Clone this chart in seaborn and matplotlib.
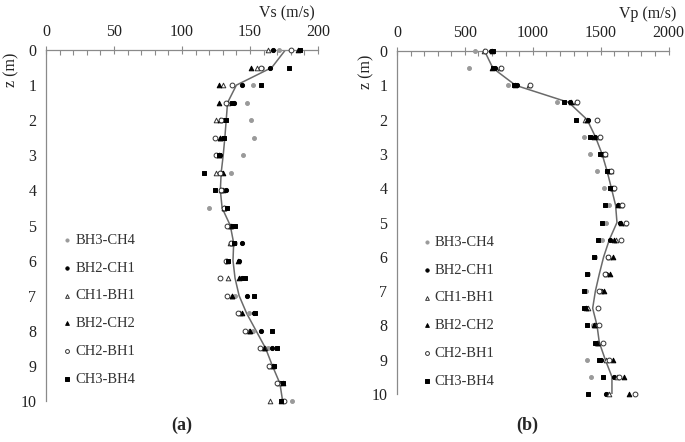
import numpy as np
import pandas as pd
import matplotlib
matplotlib.use("Agg")
import matplotlib.pyplot as plt
import seaborn as sns
from matplotlib.ticker import MultipleLocator

sns.set_style("white")
plt.rcParams['font.family'] = ['Liberation Serif', 'DejaVu Serif']

depth = [0, 0.5, 1, 1.5, 2, 2.5, 3, 3.5, 4, 4.5, 5, 5.5, 6, 6.5, 7, 7.5, 8, 8.5, 9, 9.5, 10]
series_names = ["BH3-CH4", "BH2-CH1", "CH1-BH1", "BH2-CH2", "CH2-BH1", "CH3-BH4"]

# Vs (m/s)
vs_bh3_ch4 = [171, 159, 152, 148, 151, 153, 145, 136, 131, 120, 137, 139, 134, 143, 139, 149, 152, 163, 167, 172, 181]
vs_bh2_ch1 = [167, 165, 144, 138, 131, 130, 128, 129, 132, 132, 137, 144, 142, 144, 148, 153, 158, 166, 168, 172, 174]
vs_ch1_bh1 = [163, 155, 130, 134, 125, 128, 127, 125, 129, 131, 135, 135, 133, 134, 137, 143, 149, 161, 165, 171, 165]
vs_bh2_ch2 = [185, 151, 127, 127, 128, 128, 127, 130, 130, 131, 136, 137, 141, 142, 137, 144, 150, 160, 167, 174, 173]
vs_ch2_bh1 = [180, 158, 137, 132, 129, 124, 125, 128, 129, 131, 133, 136, 132, 128, 133, 141, 146, 157, 164, 170, 175]
vs_ch3_bh4 = [187, 179, 158, 137, 132, 131, 127, 116, 124, 133, 139, 138, 134, 146, 153, 154, 166, 170, 168, 174, 173]
vs_fit = [176, 166, 140, 133.5, 132.5, 131.5, 130.3, 128.8, 128.2, 129.5, 135.5, 138, 137.5, 139, 142, 147.5, 154.5, 161.5, 166.5, 172, 174]

# Vp (m/s)
vp_bh3_ch4 = [573, 529, 818, 1179, 1390, 1377, 1419, 1475, 1527, 1559, 1541, 1510, 1455, 1405, 1390, 1395, 1440, 1465, 1400, 1431, 1555]
vp_bh2_ch1 = [690, 725, 880, 1277, 1407, 1461, 1505, 1550, 1575, 1625, 1640, 1571, 1554, 1540, 1500, 1390, 1455, 1470, 1500, 1600, 1537]
vp_ch1_bh1 = [640, 760, 975, 1320, 1382, 1490, 1530, 1575, 1590, 1650, 1680, 1613, 1560, 1540, 1500, 1404, 1460, 1480, 1540, 1620, 1560]
vp_bh2_ch2 = [700, 700, 870, 1280, 1400, 1450, 1515, 1560, 1580, 1630, 1652, 1595, 1591, 1566, 1527, 1395, 1449, 1475, 1591, 1674, 1706]
vp_ch2_bh1 = [645, 765, 980, 1326, 1473, 1498, 1534, 1579, 1596, 1657, 1689, 1652, 1554, 1534, 1485, 1478, 1485, 1517, 1559, 1632, 1750]
vp_ch3_bh4 = [710, 705, 865, 1228, 1319, 1419, 1498, 1547, 1571, 1529, 1510, 1478, 1449, 1400, 1380, 1380, 1400, 1461, 1490, 1517, 1407]
vp_fit = [645, 706, 873, 1265, 1400, 1461, 1510, 1547, 1579, 1610, 1620, 1564, 1522, 1490, 1461, 1441, 1473, 1490, 1534, 1583, 1583]

vs_all = [vs_bh3_ch4, vs_bh2_ch1, vs_ch1_bh1, vs_bh2_ch2, vs_ch2_bh1, vs_ch3_bh4]
vp_all = [vp_bh3_ch4, vp_bh2_ch1, vp_ch1_bh1, vp_bh2_ch2, vp_ch2_bh1, vp_ch3_bh4]

GREY = "#9a9a9a"
styles = [
    dict(marker="o", facecolor=GREY, edgecolor=GREY, s=8),
    dict(marker="o", facecolor="black", edgecolor="black", s=9),
    dict(marker="^", facecolor="white", edgecolor="#333333", s=11),
    dict(marker="^", facecolor="black", edgecolor="black", s=11),
    dict(marker="o", facecolor="white", edgecolor="#333333", s=12),
    dict(marker="s", facecolor="black", edgecolor="black", s=11),
]

fig = plt.figure(figsize=(6.85, 4.42), dpi=100)
axL = fig.add_axes([0.0672, 0.0928, 0.397, 0.794])
axR = fig.add_axes([0.5796, 0.1086, 0.3964, 0.7760])


def draw(ax, vals, fit, xmax, xmaj, xmin_step, legend_anchor):
    for name, v, st in zip(series_names, vals, styles):
        df = pd.DataFrame({"v": v, "z": depth})
        sns.scatterplot(data=df, x="v", y="z", ax=ax, marker=st["marker"],
                        color=st["facecolor"], edgecolor=st["edgecolor"],
                        s=st["s"], linewidth=0.7, label=name, clip_on=False, zorder=3)
    dfit = pd.DataFrame({"v": fit, "z": depth})
    sns.lineplot(data=dfit, x="v", y="z", ax=ax, sort=False, orient="y", estimator=None,
                 color="#6a6a6a", linewidth=1.1, label="_nolegend_", zorder=2)
    ax.set_xlim(0, xmax)
    ax.set_ylim(10, 0)
    ax.xaxis.set_ticks_position("top")
    ax.xaxis.set_label_position("top")
    ax.xaxis.set_major_locator(MultipleLocator(xmaj))
    ax.xaxis.set_minor_locator(MultipleLocator(xmin_step))
    ax.yaxis.set_major_locator(MultipleLocator(1))
    ax.yaxis.set_minor_locator(MultipleLocator(0.25))
    for s in ["right", "bottom"]:
        ax.spines[s].set_visible(False)
    for s in ["top", "left"]:
        ax.spines[s].set_color("#8a8a8a")
        ax.spines[s].set_linewidth(0.9)
    ax.tick_params(which="major", direction="inout", length=6, width=0.8, color="#8a8a8a",
                   labelsize=11.5, labelcolor="#222222", pad=4)
    ax.tick_params(which="minor", direction="in", length=3.5, width=0.8, color="#8a8a8a")
    ax.tick_params(axis="x", which="both", top=True, bottom=False)
    ax.set_xlabel("")
    ax.set_ylabel("")
    ax.grid(False)
    leg = ax.legend(loc="center left", bbox_to_anchor=legend_anchor, frameon=False,
                    fontsize=10.5, handlelength=0.6, handletextpad=0.25,
                    labelspacing=1.0, borderpad=0.0, markerscale=0.8)
    for t in leg.get_texts():
        t.set_color("#333333")


draw(axL, vs_all, vs_fit, 200, 50, 10, (0.035, 0.26))
draw(axR, vp_all, vp_fit, 2000, 500, 100, (0.066, 0.24))

fig.text(287 / 685, 1 - 13 / 442, "Vs (m/s)", ha="center", va="center", fontsize=11.5, color="#222222")
fig.text(648 / 685, 1 - 14 / 442, "Vp (m/s)", ha="center", va="center", fontsize=11.5, color="#222222")
fig.text(11 / 685, 1 - 70 / 442, "z (m)", ha="center", va="center", rotation=90, fontsize=11.5, color="#222222")
fig.text(366 / 685, 1 - 72 / 442, "z (m)", ha="center", va="center", rotation=90, fontsize=11.5, color="#222222")
fig.text(182 / 685, 1 - 425 / 442, "(a)", ha="center", va="center", fontsize=13, fontweight="bold")
fig.text(527 / 685, 1 - 425 / 442, "(b)", ha="center", va="center", fontsize=13, fontweight="bold")

fig.savefig("out.png", dpi=100)
